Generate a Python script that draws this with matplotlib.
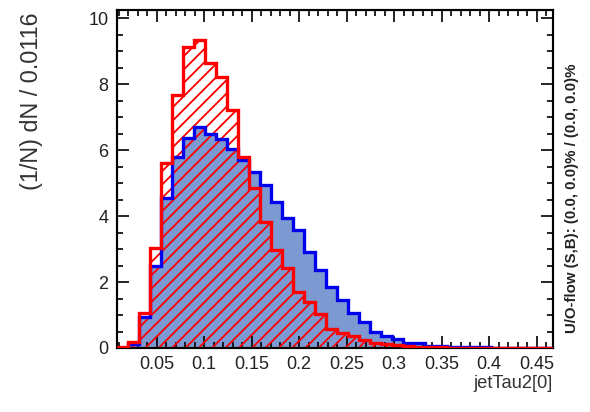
import numpy as np
import matplotlib
matplotlib.use("Agg")
import matplotlib.pyplot as plt

# histogram binning
x_min = 0.0079
bin_width = 0.0116
n_bins = 40

# signal (red, hatched) and background (blue, filled), normalised
red_vals = [0.04, 0.18, 1.05, 3.03, 5.60, 7.67, 9.13, 9.35, 8.64, 8.21,
            7.20, 5.80, 4.85, 3.83, 2.97, 2.42, 1.71, 1.40, 1.02, 0.58,
            0.44, 0.35, 0.24, 0.15, 0.12, 0.09, 0.05, 0.04, 0.02, 0.02,
            0.01, 0.01, 0.0, 0.0, 0.0, 0.0, 0.0, 0.0, 0.0, 0.0]
blue_vals = [0.0, 0.12, 0.95, 2.50, 4.54, 5.78, 6.37, 6.69, 6.50, 6.34,
             6.02, 5.69, 5.32, 4.95, 4.43, 3.95, 3.58, 2.92, 2.36, 1.84,
             1.45, 1.05, 0.80, 0.50, 0.37, 0.26, 0.14, 0.14, 0.07, 0.07,
             0.03, 0.03, 0.03, 0.03, 0.0, 0.0, 0.0, 0.0, 0.0, 0.0]

x_ticks = [0.05, 0.1, 0.15, 0.2, 0.25, 0.3, 0.35, 0.4, 0.45]
x_tick_labels = ["0.05", "0.1", "0.15", "0.2", "0.25", "0.3", "0.35", "0.4", "0.45"]
y_ticks = [0, 2, 4, 6, 8, 10]

x_label = "jetTau2[0]"
y_label = "(1/N) dN / 0.0116"
flow_text = "U/O-flow (S,B): (0.0, 0.0)% / (0.0, 0.0)%"

edges = x_min + bin_width * np.arange(n_bins + 1)

DPI = 120
W, H = 590, 412
plt.rcParams['font.family'] = ['Liberation Sans', 'DejaVu Sans']
plt.rcParams['hatch.linewidth'] = 1.1

fig = plt.figure(figsize=(W / DPI, H / DPI), dpi=DPI)
ax = fig.add_axes([116.7 / W, 1 - 348 / H, (553.3 - 116.7) / W, (348 - 9.5) / H])

# background: filled blue
ax.stairs(blue_vals, edges, fill=True, facecolor='#7d99d1', edgecolor='none', zorder=1)
# signal: red hatch
ax.stairs(red_vals, edges, fill=True, facecolor='none', edgecolor='#ff0000',
          hatch='///', linewidth=0, zorder=2)
# outlines
ax.stairs(blue_vals, edges, color='#0000ee', linewidth=2.0, zorder=3)
ax.stairs(red_vals, edges, color='#ff0000', linewidth=2.0, zorder=4)

ax.set_xlim(x_min, 0.4675)
ax.set_ylim(0, 10.26)

ax.set_xticks(x_ticks)
ax.set_xticklabels(x_tick_labels)
ax.set_xticks(np.arange(0.01, 0.47, 0.01), minor=True)
ax.set_yticks(y_ticks)
ax.set_yticks(np.arange(0, 10.3, 0.5), minor=True)

ax.tick_params(which='both', direction='in', top=True, right=True,
               color='black', labelsize=10.8, labelcolor='#222222')
ax.tick_params(which='major', length=7, width=1.0, pad=5)
ax.tick_params(which='minor', length=3.5, width=1.0)
for s in ax.spines.values():
    s.set_linewidth(1.3)

# axis titles, ROOT style (aligned at axis ends)
fig.text(32 / W, 1 - 13 / H, y_label, rotation=90, ha='center', va='top',
         fontsize=14, color='#333333')
fig.text(553 / W, 1 - 383 / H, x_label, ha='right', va='center',
         fontsize=11, color='#333333')
fig.text(572 / W, 1 - 333 / H, flow_text, rotation=90, ha='center', va='bottom',
         fontsize=9, fontweight='bold', color='#222222')

fig.savefig("out.png", dpi=DPI)
